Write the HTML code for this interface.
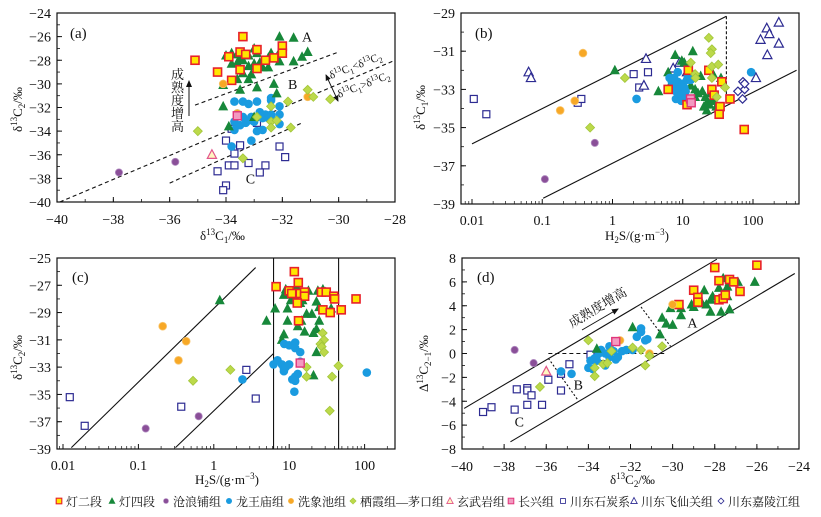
<!DOCTYPE html>
<html><head><meta charset="utf-8">
<style>
html,body{margin:0;padding:0;background:#fff;}
svg{display:block;font-family:"Liberation Serif","Noto Serif CJK SC",serif;}
.tk{font-size:14px;fill:#111;}
.ttl{font-size:13px;fill:#111;}
.lg{font-size:12px;fill:#111;font-family:"Liberation Serif","Noto Serif CJK SC",serif;}
</style></head>
<body>
<svg id="fig" width="821" height="517" viewBox="0 0 821 517">
<defs>
<marker id="ah" markerWidth="8" markerHeight="8" refX="6" refY="3" orient="auto"><path d="M0,0 L7,3 L0,6 z" fill="#111"/></marker>
<marker id="ahs" markerWidth="8" markerHeight="8" refX="1" refY="3" orient="auto"><path d="M7,0 L0,3 L7,6 z" fill="#111"/></marker>
</defs>
</svg>
<script>
// ---------- Panel (a): d13C1 vs d13C2 ----------
const aDeng2=[[-33.4,-26.0],[-35.1,-28],[-34.3,-29],[-33.8,-29.7],[-33.5,-27.3],[-33.3,-27.5],[-33.5,-28.8],[-32.9,-27.1],[-32.6,-28],[-32.3,-27.8],[-32,-26.8],[-32,-27.4],[-32.9,-28.7],[-33.9,-27.7]];
const aDeng4=[[-34,-27.6],[-33.8,-27.4],[-33.6,-27.5],[-33.5,-27.8],[-33.8,-28.3],[-33.6,-28.2],[-33.4,-28],[-33.2,-27.6],[-33,-27],[-32.9,-27.4],[-32.8,-28.2],[-33,-28.3],[-33.2,-28.5],[-33.4,-29.1],[-33.1,-29.2],[-33.6,-29.6],[-33.2,-29.6],[-32.9,-30.3],[-32.7,-28.6],[-32.5,-28.6],[-32.4,-27.4],[-32.1,-27.3],[-32.1,-28.1],[-32.5,-27.8],[-32.1,-26],[-31.6,-26.1],[-31.1,-27.3],[-31.3,-27.7],[-31.6,-28.1],[-32.2,-30.8],[-32.3,-30],[-33.5,-30.5],[-34.1,-30.1],[-34.1,-31.9],[-33.9,-33.6],[-33.0,-32.8]];
const aCang=[[-37.8,-37.5],[-35.8,-36.6]];
const aLwm=[[-33.7,-31.5],[-33.4,-31.5],[-33.2,-31.7],[-32.9,-31.5],[-32.4,-31.4],[-32.4,-31.2],[-32.1,-31.9],[-33.6,-32.5],[-33.4,-32.8],[-33.1,-32.8],[-32.8,-32.4],[-32.6,-32.6],[-32.4,-32.6],[-32.1,-32.6],[-33.7,-33.2],[-33.5,-33.5],[-33.3,-33.3],[-33,-33.2],[-32.7,-32.9],[-32.5,-32.9],[-32.4,-32.8],[-32.1,-33.4],[-33.7,-33.9],[-32.9,-34.0],[-32.7,-33.9],[-33.8,-35.3],[-33.1,-34.8],[-33.2,-33.1]];
const aXxc=[[-34.1,-30],[-31.1,-31.1],[-33.6,-32.5]];
const aQx=[[-35.0,-34],[-33.4,-36.3],[-31.1,-30.5],[-30.9,-31.1],[-30.3,-31.3],[-31.8,-31.5],[-32.4,-31.9],[-32.9,-32.8],[-32.4,-33.2],[-32.4,-33.7],[-32.2,-33.1],[-31.7,-33.7]];
const aXw=[[-34.5,-36.0]];
const aCx=[[-33.6,-32.7]];
const aSt=[[-33.8,-33.8],[-32.9,-33.3],[-34.0,-34.8],[-33.5,-35.2],[-33.7,-35.9],[-34.3,-37.4],[-33.9,-36.9],[-33.7,-36.9],[-33.2,-36.7],[-32.6,-36.9],[-32.8,-37.5],[-32.1,-35.3],[-31.9,-36.2],[-34,-38.6],[-34.1,-39]];
const aXTicks=[-40,-38,-36,-34,-32,-30,-28];
const aYTicks=[-24,-26,-28,-30,-32,-34,-36,-38,-40];

// ---------- Panel (b): H2S vs d13C1 ----------
const bDeng2=[[6.2,-33.0],[12.0,-32.0],[11.5,-33.8],[23.5,-32.0],[26,-33.0],[28,-33.3],[34,-33.9],[33,-34.3],[36,-32.6],[47,-33.5],[75,-35.1]];
const bDeng4=[[1.08,-32],[4.5,-33.1],[7.8,-31.2],[13.9,-31],[9.7,-31.5],[10.5,-31.6],[6.2,-32.1],[7,-32.6],[8.5,-32.9],[11,-33.4],[13,-32.8],[15,-33],[15,-33.4],[16.5,-33.2],[18,-32.3],[21,-33.4],[22,-33.7],[20,-33.9],[22,-34.1],[24,-33.8],[25,-33.2],[27,-32.2],[28,-33.6],[30,-33.9],[35,-32.4],[26,-33.6],[19,-33.1]];
const bCang=[[0.56,-35.8],[0.109,-37.7]];
const bLwm=[[6.5,-32.4],[7,-32.6],[7.5,-32.4],[8,-32.8],[8,-33.1],[8,-33.5],[8.5,-32.6],[9,-33],[9.5,-33.3],[9.5,-33.6],[10,-32.7],[10.5,-32.9],[11,-33.1],[11.5,-32.5],[12,-32.3],[12.5,-32.1],[13,-32.5],[11,-33.5],[2.2,-33.5],[94,-32.1],[8.5,-32.1]];
const bXxc=[[0.38,-31.1],[0.18,-34.1],[0.29,-33.6]];
const bQx=[[1.5,-32.4],[0.48,-35],[23.5,-30.3],[26,-30.9],[25,-31.1],[13,-31.6],[15,-32.2],[15.2,-32.4],[26,-31.8],[26,-32.4],[32,-31.7],[40,-32.9],[30.5,-33.4]];
const bCx=[[12.9,-33.5],[13.2,-33.7]];
const bSt=[[0.0106,-33.5],[0.016,-34.3],[0.32,-33.7],[0.36,-33.5],[2.0,-32.2],[2.4,-32.9],[3.2,-32.1]];
const bFxg=[[0.064,-32.1],[0.069,-32.4],[3.0,-31.4],[2.8,-32.8],[7.3,-31.9],[9.0,-31.6],[11.5,-32.1],[157,-29.8],[128,-30.4],[171,-30.1],[233,-29.5],[233,-30.6],[160,-31.2],[110,-32.4]];
const bJlj=[[61,-33.1],[72,-32.6],[76,-33.0],[71,-33.5],[76,-32.7]];
const bXTicks=[0.01,0.1,1,10,100];
const bXTickLabels=["0.01","0.1","1","10","100"];
const bYTicks=[-29,-31,-33,-35,-37,-39];

// ---------- Panel (c): H2S vs d13C2 ----------
const cDeng2=[[11.7,-26.0],[13.2,-26.8],[6.7,-27.1],[10,-27.4],[10.8,-27.6],[14,-27.6],[16,-27.5],[16,-27.8],[12.8,-28.3],[26.8,-27.5],[31,-27.5],[39,-27.8],[40,-28.0],[28,-28.8],[35,-29.0],[49,-28.8],[77,-28.0],[13.3,-29.6]];
const cDeng4=[[1.2,-28.1],[5,-29.6],[6.5,-28.7],[8.5,-27.7],[9,-27.3],[9.5,-28.7],[10.5,-28.1],[11.5,-27.8],[12.5,-27.1],[13,-28.2],[14,-28.3],[15,-28.1],[16,-27.8],[18,-27.4],[17,-29.1],[20,-29.1],[23,-28.2],[24,-27.4],[28,-27.3],[30,-27.5],[9.5,-29.6],[13,-30],[14.5,-29.6],[16,-30.4],[21,-30.5],[23,-30.2],[25,-29.6],[23,-31.9],[8.5,-30.6],[8,-31.0],[21,-33.6],[36,-28.7],[25,-28.6]];
const cCang=[[0.125,-37.5],[0.63,-36.6]];
const cLwm=[[8.6,-31.3],[10,-31.4],[12,-31.2],[12,-31.6],[14,-31.9],[6.2,-32.8],[7,-32.5],[8,-32.8],[8.5,-33.1],[8.5,-33.3],[9,-33],[10,-32.8],[14,-32.6],[13,-33.5],[12,-33.7],[11,-33.9],[12,-34],[11.7,-34.8],[2.4,-33.9],[107,-33.4]];
const cXxc=[[0.21,-30],[0.43,-31.1],[0.34,-32.5]];
const cQx=[[0.53,-34.0],[1.66,-33.2],[27.8,-30.5],[29,-31.0],[26,-31.3],[27,-31.5],[29,-31.9],[17,-33.0],[17,-33.7],[37,-33.7],[45,-32.9],[34.5,-36.2]];
const cCx=[[14,-32.7]];
const cSt=[[0.0123,-35.2],[0.0194,-37.3],[0.37,-35.9],[2.7,-33.2],[3.6,-35.3]];
const cXTicks=[0.01,0.1,1,10,100];
const cXTickLabels=["0.01","0.1","1","10","100"];
const cYTicks=[-25,-27,-29,-31,-33,-35,-37,-39];

// ---------- Panel (d): d13C2 vs Delta ----------
const dDeng2=[[-28.0,7.2],[-26.0,7.4],[-29.0,5.3],[-29.7,4.1],[-28.8,4.7],[-28.8,4.3],[-27.8,6.1],[-27.3,6.2],[-27.1,6.0],[-26.8,5.2],[-27.8,4.5],[-27.6,4.6],[-27.5,4.9]];
const dDeng4=[[-33.6,0.4],[-31.9,2.2],[-30.6,1.6],[-30.5,3.0],[-30.3,2.5],[-30.0,2.4],[-30.1,3.8],[-29.6,3.2],[-29.6,3.8],[-29.1,4.1],[-29.0,3.9],[-28.6,4.2],[-28.5,5.3],[-28.4,4.1],[-28.2,3.5],[-28.1,4.8],[-27.7,3.5],[-27.3,3.7],[-27.6,6.3],[-27.3,6.0],[-26.9,6.0],[-26.1,6.0],[-27.4,5.6],[-27.4,4.8],[-27.8,5.5],[-28.2,4.5]];
const dCang=[[-37.5,0.3],[-36.6,-0.8]];
const dLwm=[[-35.3,-1.5],[-34.8,-1.7],[-34,-1.2],[-33.8,-1.3],[-33.9,-0.6],[-33.7,-0.4],[-33.5,0],[-33.4,0.3],[-33.2,0],[-33,-0.3],[-32.8,0.2],[-32.7,-0.5],[-32.6,-0.3],[-32.4,0.2],[-32.2,0.3],[-33.6,-0.6],[-33.2,-1.0],[-31.5,2.1],[-31.5,1.8],[-31.7,1.4],[-31.3,1.1],[-31.2,1.2],[-31.9,0.3],[-33,0.6]];
const dXxc=[[-32.5,1.1],[-31.1,0],[-30.0,4.1]];
const dQx=[[-36.3,-2.8],[-34.0,1.1],[-33.7,-1.2],[-33.7,-1.9],[-33.3,-0.9],[-33.1,-0.8],[-32.9,0.2],[-31.9,0.5],[-31.5,0.3],[-31.3,-1.0],[-31.1,-0.2],[-30.5,0.6]];
const dXw=[[-36.0,-1.5]];
const dCx=[[-32.7,1.0]];
const dSt=[[-39.0,-4.9],[-38.6,-4.5],[-37.5,-4.7],[-37.4,-3.0],[-36.9,-2.9],[-36.9,-3.1],[-36.7,-3.5],[-36.9,-4.3],[-36.2,-4.3],[-35.9,-2.2],[-35.3,-1.7],[-35.3,-3.1],[-34.9,-0.9],[-33.9,-0.1],[-33.3,-0.3]];
const dXTicks=[-40,-38,-36,-34,-32,-30,-28,-26,-24];
const dYTicks=[8,6,4,2,0,-2,-4,-6,-8];

const NS="http://www.w3.org/2000/svg";
const svg=document.getElementById('fig');
function mk(tag,attrs,parent){const e=document.createElementNS(NS,tag);for(const k in attrs)e.setAttribute(k,attrs[k]);(parent||svg).appendChild(e);return e;}
function lin(d0,d1,p0,p1){return v=>p0+(v-d0)/(d1-d0)*(p1-p0);}
function logs(d0,p0,per){return v=>p0+(Math.log10(v)-Math.log10(d0))*per;}
const fmt=v=>(v<0?"\u2212"+Math.abs(v):String(v));

// panel definitions
const P={
 a:{x0:57,x1:395,y0:13,y1:202,X:lin(-40,-28,57,395),Y:lin(-24,-40,13,202)},
 b:{x0:461,x1:799,y0:13,y1:204,X:logs(0.01,472,70.25),Y:lin(-29,-39,13,204)},
 c:{x0:57,x1:395,y0:258,y1:449,X:logs(0.01,63,75.4),Y:lin(-25,-39,258,449)},
 d:{x0:462,x1:799,y0:258,y1:449,X:lin(-40,-24,462,799),Y:lin(8,-8,258,449)}
};

function marker(type,x,y,g){
 let e;
 if(type==='deng2'){e=mk('rect',{x:x-4,y:y-4,width:8,height:8,fill:'#ffe600',stroke:'#e8202a','stroke-width':1.6},g);}
 else if(type==='deng4'){e=mk('polygon',{points:`${x},${y-5.5} ${x-5},${y+4} ${x+5},${y+4}`,fill:'#17883a'},g);}
 else if(type==='cang'){e=mk('circle',{cx:x,cy:y,r:3.6,fill:'#8a4f98',stroke:'#b08ac0','stroke-width':0.8},g);}
 else if(type==='lwm'){e=mk('circle',{cx:x,cy:y,r:4.3,fill:'#1a9be0'},g);}
 else if(type==='xxc'){e=mk('circle',{cx:x,cy:y,r:3.9,fill:'#f7a826',stroke:'#f9c46a','stroke-width':0.8},g);}
 else if(type==='qx'){e=mk('polygon',{points:`${x},${y-4.5} ${x+4.5},${y} ${x},${y+4.5} ${x-4.5},${y}`,fill:'#bcd94a',stroke:'#a2c63a','stroke-width':0.8},g);}
 else if(type==='xw'){e=mk('polygon',{points:`${x},${y-5} ${x-4.6},${y+3.6} ${x+4.6},${y+3.6}`,fill:'#fff6c0',stroke:'#e2558a','stroke-width':1.2},g);}
 else if(type==='cx'){e=mk('rect',{x:x-4,y:y-4,width:8,height:8,fill:'#f29ac0',stroke:'#e0357a','stroke-width':1.4},g);}
 else if(type==='st'){e=mk('rect',{x:x-3.5,y:y-3.5,width:7,height:7,fill:'#fff',stroke:'#2d2b92','stroke-width':1.2},g);}
 else if(type==='fxg'){e=mk('polygon',{points:`${x},${y-5} ${x-4.6},${y+3.6} ${x+4.6},${y+3.6}`,fill:'#fff',stroke:'#2d2b92','stroke-width':1.2},g);}
 else if(type==='jlj'){e=mk('polygon',{points:`${x},${y-4.2} ${x+4.2},${y} ${x},${y+4.2} ${x-4.2},${y}`,fill:'#fff',stroke:'#2d2b92','stroke-width':1.2},g);}
 return e;
}
function series(p,arr,type,name){
 const g=mk('g',{});
 
 
 arr.forEach(d=>{const m=marker(type,p.X(d[0]),p.Y(d[1]),g);
  
  });
}
function frame(p,name){
 const r=mk('rect',{x:p.x0,y:p.y0,width:p.x1-p.x0,height:p.y1-p.y0,fill:'none',stroke:'#111','stroke-width':1.2});
 
 
}
function yAxis(p,ticks,name,minorStep){
 const g=mk('g',{});
 
 
 ticks.forEach(t=>{const y=p.Y(t);
  mk('line',{x1:p.x0,x2:p.x0+5,y1:y,y2:y,stroke:'#111','stroke-width':1},g);
  const tx=mk('text',{x:p.x0-6,y:y+5,'text-anchor':'end',class:'tk'},g);tx.textContent=fmt(t);});
 const lo=Math.min(...ticks),hi=Math.max(...ticks);
 for(let v=lo;v<=hi;v+=minorStep){const y=p.Y(v);mk('line',{x1:p.x0,x2:p.x0+3,y1:y,y2:y,stroke:'#111','stroke-width':0.8},g);}
}
function xAxisLin(p,ticks,name,minorStep){
 const g=mk('g',{});
 
 
 ticks.forEach(t=>{const x=p.X(t);
  mk('line',{x1:x,x2:x,y1:p.y1,y2:p.y1-5,stroke:'#111','stroke-width':1},g);
  const tx=mk('text',{x:x,y:p.y1+22,'text-anchor':'middle',class:'tk'},g);tx.textContent=fmt(t);});
 const lo=Math.min(...ticks),hi=Math.max(...ticks);
 for(let v=lo;v<=hi;v+=minorStep){const x=p.X(v);mk('line',{x1:x,x2:x,y1:p.y1,y2:p.y1-3,stroke:'#111','stroke-width':0.8},g);}
}
function xAxisLog(p,ticks,labels,name){
 const g=mk('g',{});
 
 
 ticks.forEach((t,i)=>{const x=p.X(t);
  mk('line',{x1:x,x2:x,y1:p.y1,y2:p.y1-5,stroke:'#111','stroke-width':1},g);
  const tx=mk('text',{x:x,y:p.y1+21,'text-anchor':'middle',class:'tk'},g);tx.textContent=labels[i];});
 for(let dec=0.001;dec<=100;dec*=10){for(let k=2;k<=9;k++){const x=p.X(dec*k);if(x>p.x0&&x<p.x1)mk('line',{x1:x,x2:x,y1:p.y1,y2:p.y1-3,stroke:'#111','stroke-width':0.7},g);}}
}
function line(p,x1,y1,x2,y2,name,dash){
 const l=mk('line',{x1:p.X(x1),y1:p.Y(y1),x2:p.X(x2),y2:p.Y(y2),stroke:'#111','stroke-width':1.1});
 if(dash)l.setAttribute('stroke-dasharray',dash);
 
 
 return l;
}
function txt(x,y,s,cls,name,extra){
 const t=mk('text',Object.assign({x:x,y:y,class:cls},extra||{}));
 t.innerHTML=s;
 
 
 return t;
}

// ===== Panel a =====
const pa=P.a;
frame(pa,'panel-a');
yAxis(pa,aYTicks,'panel-a',1);
xAxisLin(pa,aXTicks,'panel-a',1);
line(pa,-35.1,-31.8,-30,-27.3,'panel-a-upper-dashed-line','4,3');
line(pa,-39.9,-40,-28,-28.0,'panel-a-equal-dashed-line','4,3');
line(pa,-36,-38.4,-31.3,-33.3,'panel-a-lower-dashed-line','4,3');
series(pa,aSt,'st','panel-a-chuandong-shitan');
series(pa,aLwm,'lwm','panel-a-longwangmiao');
series(pa,aDeng4,'deng4','panel-a-deng4');
series(pa,aDeng2,'deng2','panel-a-deng2');
series(pa,aCang,'cang','panel-a-canglangpu');
series(pa,aXxc,'xxc','panel-a-xixiangchi');
series(pa,aQx,'qx','panel-a-qixia-maokou');
series(pa,aXw,'xw','panel-a-xuanwuyan');
series(pa,aCx,'cx','panel-a-changxing');
txt(70,38,'(a)','tk','panel-a-label',{style:'font-size:15px'});
txt(pa.X(-31.3),pa.Y(-26)+5,'A','tk','zone-a-label');
txt(pa.X(-31.8),pa.Y(-30)+5,'B','tk','zone-b-label');
txt(pa.X(-33.3),pa.Y(-38)+5,'C','tk','zone-c-label');
['成','熟','度','增','高'].forEach((c,i)=>{const t=txt(171,79+i*13,c,'lg','maturity-label-a-'+i,{style:'font-size:13px'});});
{const l=mk('line',{x1:189,y1:116,x2:189,y2:81,stroke:'#111','stroke-width':1,'marker-end':'url(#ah)'});}
{const l=mk('line',{x1:326,y1:75,x2:338,y2:101,stroke:'#111','stroke-width':0.9,'marker-end':'url(#ah)','marker-start':'url(#ahs)'});}
txt(331,79,'δ<tspan font-size="8" dy="-4">13</tspan><tspan dy="4">C</tspan><tspan font-size="8" dy="3">1</tspan><tspan dy="-3">&lt;δ</tspan><tspan font-size="8" dy="-4">13</tspan><tspan dy="4">C</tspan><tspan font-size="8" dy="3">2</tspan>','lg','condition-less-label',{transform:'rotate(-21 331 79)',style:'font-size:11px'});
txt(339,98,'δ<tspan font-size="8" dy="-4">13</tspan><tspan dy="4">C</tspan><tspan font-size="8" dy="3">1</tspan><tspan dy="-3">&gt;δ</tspan><tspan font-size="8" dy="-4">13</tspan><tspan dy="4">C</tspan><tspan font-size="8" dy="3">2</tspan>','lg','condition-greater-label',{transform:'rotate(-21 339 98)',style:'font-size:11px'});
txt(200,240,'δ<tspan font-size="9" dy="-5">13</tspan><tspan dy="5">C</tspan><tspan font-size="9" dy="3">1</tspan><tspan dy="-3">/‰</tspan>','ttl','panel-a-x-axis-title');
txt(22,132,'δ<tspan font-size="9" dy="-5">13</tspan><tspan dy="5">C</tspan><tspan font-size="9" dy="3">2</tspan><tspan dy="-3">/‰</tspan>','ttl','panel-a-y-axis-title',{transform:'rotate(-90 22 132)'});

// ===== Panel b =====
const pb=P.b;
frame(pb,'panel-b');
yAxis(pb,bYTicks,'panel-b',1);
xAxisLog(pb,bXTicks,bXTickLabels,'panel-b');
line(pb,0.01,-35.85,41.8,-29.17,'panel-b-upper-line');
line(pb,41.8,-29.17,41.8,-33.7,'panel-b-vertical-dashed','3,2');
line(pb,0.103,-38.7,417,-32.0,'panel-b-lower-line');
series(pb,bSt,'st','panel-b-chuandong-shitan');
series(pb,bFxg,'fxg','panel-b-feixianguan');
series(pb,bJlj,'jlj','panel-b-jialingjiang');
series(pb,bDeng4,'deng4','panel-b-deng4');
series(pb,bLwm,'lwm','panel-b-longwangmiao');
series(pb,bDeng2,'deng2','panel-b-deng2');
series(pb,bCang,'cang','panel-b-canglangpu');
series(pb,bXxc,'xxc','panel-b-xixiangchi');
series(pb,bQx,'qx','panel-b-qixia-maokou');
series(pb,bCx,'cx','panel-b-changxing');
txt(475,38,'(b)','tk','panel-b-label',{style:'font-size:15px'});
txt(605,240,'H<tspan font-size="9" dy="3">2</tspan><tspan dy="-3">S/(g·m</tspan><tspan font-size="9" dy="-5">−3</tspan><tspan dy="5">)</tspan>','ttl','panel-b-x-axis-title');
txt(425,130,'δ<tspan font-size="9" dy="-5">13</tspan><tspan dy="5">C</tspan><tspan font-size="9" dy="3">1</tspan><tspan dy="-3">/‰</tspan>','ttl','panel-b-y-axis-title',{transform:'rotate(-90 425 130)'});

// ===== Panel c =====
const pc=P.c;
frame(pc,'panel-c');
yAxis(pc,cYTicks,'panel-c',1);
xAxisLog(pc,cXTicks,cXTickLabels,'panel-c');
line(pc,0.0129,-38.9,3.59,-25.7,'panel-c-upper-line');
line(pc,0.31,-38.9,6.2,-32.0,'panel-c-lower-line');
line(pc,6.2,-25,6.2,-39,'panel-c-vertical-line-1');
line(pc,45.2,-25,45.2,-39,'panel-c-vertical-line-2');
series(pc,cSt,'st','panel-c-chuandong-shitan');
series(pc,cDeng4,'deng4','panel-c-deng4');
series(pc,cLwm,'lwm','panel-c-longwangmiao');
series(pc,cDeng2,'deng2','panel-c-deng2');
series(pc,cCang,'cang','panel-c-canglangpu');
series(pc,cXxc,'xxc','panel-c-xixiangchi');
series(pc,cQx,'qx','panel-c-qixia-maokou');
series(pc,cCx,'cx','panel-c-changxing');
txt(72,282,'(c)','tk','panel-c-label',{style:'font-size:15px'});
txt(195,484,'H<tspan font-size="9" dy="3">2</tspan><tspan dy="-3">S/(g·m</tspan><tspan font-size="9" dy="-5">−3</tspan><tspan dy="5">)</tspan>','ttl','panel-c-x-axis-title');
txt(22,380,'δ<tspan font-size="9" dy="-5">13</tspan><tspan dy="5">C</tspan><tspan font-size="9" dy="3">2</tspan><tspan dy="-3">/‰</tspan>','ttl','panel-c-y-axis-title',{transform:'rotate(-90 22 380)'});

// ===== Panel d =====
const pd=P.d;
frame(pd,'panel-d');
yAxis(pd,dYTicks,'panel-d',1);
xAxisLin(pd,dXTicks,'panel-d',1);
line(pd,-39.9,-4.6,-27.9,7.9,'panel-d-upper-line');
line(pd,-37.7,-7.4,-24.2,6.7,'panel-d-lower-line');
line(pd,-35.9,-0.4,-34.5,-3.9,'panel-d-divider-bc','2,2');
line(pd,-31.5,3.9,-30.1,0.6,'panel-d-divider-ab','2,2');
line(pd,-35.9,0,-30.4,0,'panel-d-zero-dashed','4,3');
series(pd,dSt,'st','panel-d-chuandong-shitan');
series(pd,dLwm,'lwm','panel-d-longwangmiao');
series(pd,dDeng4,'deng4','panel-d-deng4');
series(pd,dDeng2,'deng2','panel-d-deng2');
series(pd,dCang,'cang','panel-d-canglangpu');
series(pd,dXxc,'xxc','panel-d-xixiangchi');
series(pd,dQx,'qx','panel-d-qixia-maokou');
series(pd,dXw,'xw','panel-d-xuanwuyan');
series(pd,dCx,'cx','panel-d-changxing');
txt(477,282,'(d)','tk','panel-d-label',{style:'font-size:15px'});
txt(pd.X(-29.3),pd.Y(2.6)+5,'A','tk','zone-a-label-d');
txt(pd.X(-34.7),pd.Y(-2.6)+5,'B','tk','zone-b-label-d');
txt(pd.X(-37.5),pd.Y(-5.7)+5,'C','tk','zone-c-label-d');
txt(572,328,'成熟度增高','lg','maturity-label-d',{transform:'rotate(-31 572 328)',style:'font-size:13px'});
{const l=mk('line',{x1:582,y1:330,x2:618,y2:309,stroke:'#111','stroke-width':1,'marker-end':'url(#ah)'});}
txt(610,484,'δ<tspan font-size="9" dy="-5">13</tspan><tspan dy="5">C</tspan><tspan font-size="9" dy="3">2</tspan><tspan dy="-3">/‰</tspan>','ttl','panel-d-x-axis-title');
txt(428,392,'Δ<tspan font-size="9" dy="-5">13</tspan><tspan dy="5">C</tspan><tspan font-size="9" dy="3">2−1</tspan><tspan dy="-3">/‰</tspan>','ttl','panel-d-y-axis-title',{transform:'rotate(-90 428 392)'});

// ===== Legend =====
const legNames=['灯二段','灯四段','沧浪铺组','龙王庙组','洗象池组','栖霞组—茅口组','玄武岩组','长兴组','川东石炭系','川东飞仙关组','川东嘉陵江组'];
const legTypes=['deng2','deng4','cang','lwm','xxc','qx','xw','cx','st','fxg','jlj'];
const legX=[59,112,166,229,291,353,450,511,563,634,721];
const lg=mk('g',{});


legNames.forEach((n,i)=>{
 const g=mk('g',{},lg);
 
 
 const m=marker(legTypes[i],legX[i],501,g);
 m.setAttribute('transform',`translate(${legX[i]} 501) scale(0.7) translate(${-legX[i]} -501)`);
 const t=mk('text',{x:legX[i]+7,y:506,class:'lg'},g);t.textContent=n;
});
</script>
</body></html>
